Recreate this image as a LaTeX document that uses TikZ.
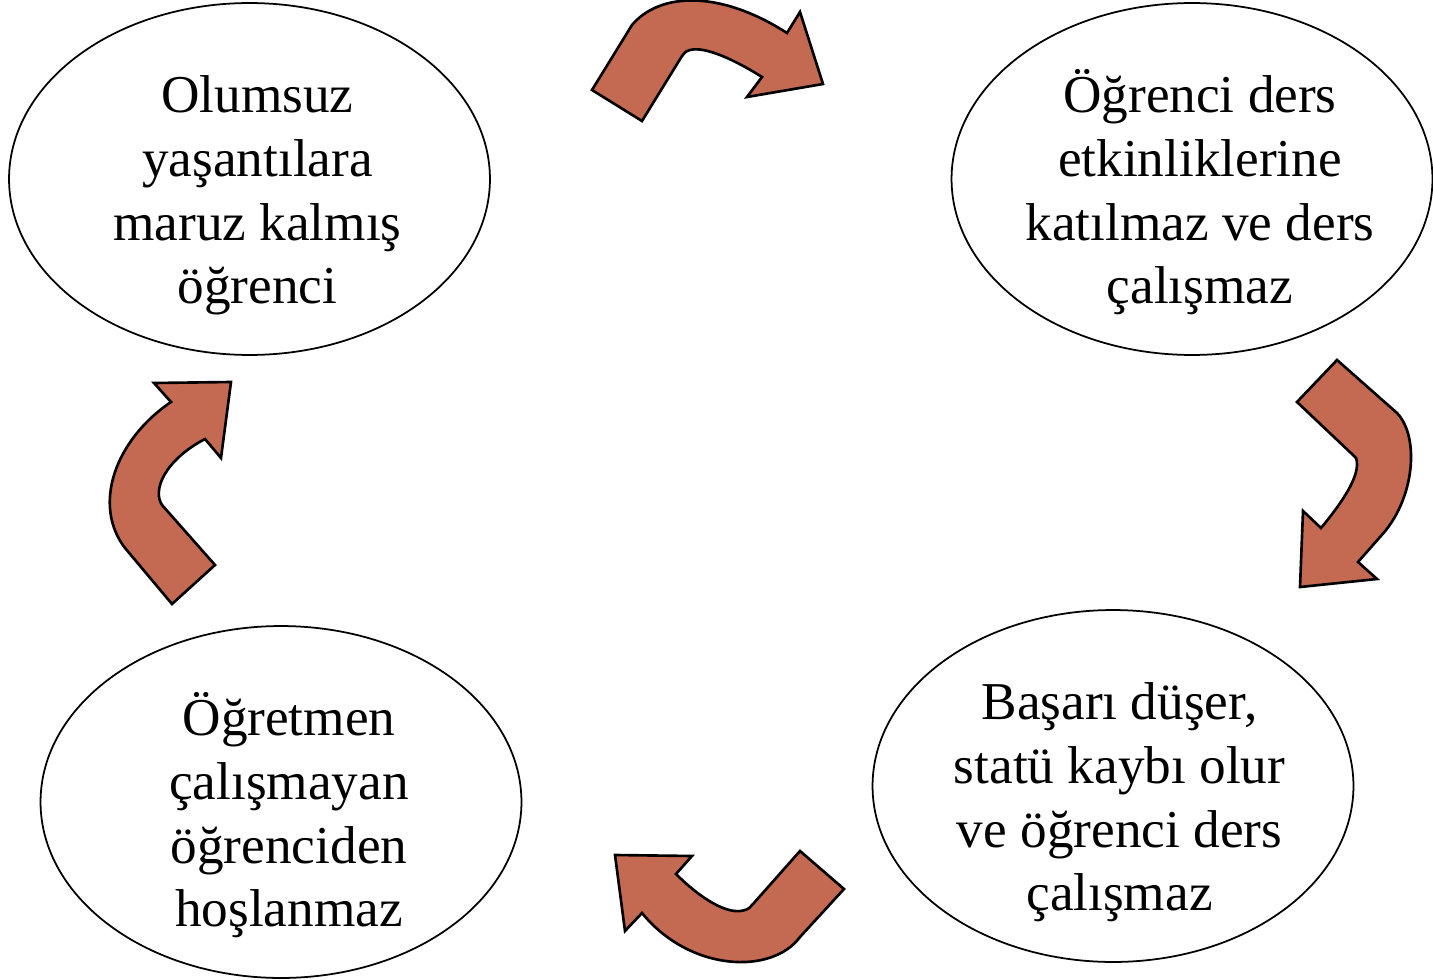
\documentclass[tikz,border=0pt]{standalone}
\usepackage{fontspec}
\setmainfont{Liberation Serif}
\usetikzlibrary{shapes.geometric}
\definecolor{arrowred}{RGB}{196,106,82}

\begin{document}
\begin{tikzpicture}[x=0.02cm, y=-0.02cm,
	stage/.style={ellipse, draw, line width=1pt, inner sep=0pt,
		minimum width=9.62cm, minimum height=7.04cm},
	stagetext/.style={align=center, inner sep=0pt, text height=5cm, text depth=0cm,
		xshift=0.16cm, font=\fontsize{30.3}{36.3}\selectfont},
	bentarrow/.style={fill=arrowred, draw=black, line width=1.5pt, line join=miter}]
	\useasboundingbox (0,0) rectangle (1433,980);
	\node (olumsuz) at (249.5,179) [stage] {};
	\node (katilmaz) at (1192,179) [stage] {};
	\node (basari) at (1113,786) [stage] {};
	\node (hoslanmaz) at (281,802) [stage] {};
	\node (olumsuztext) at (olumsuz.center) [stagetext] {Olumsuz\\yaşantılara\\maruz kalmış\\öğrenci};
	\node (katilmaztext) at (katilmaz.center) [stagetext] {Öğrenci ders\\etkinliklerine\\katılmaz ve ders\\çalışmaz};
	\node (basaritext) at (basari.center) [stagetext, xshift=-0.03cm] {Başarı düşer,\\statü kaybı olur\\ve öğrenci ders\\çalışmaz};
	\node (hoslanmaztext) at (hoslanmaz.center) [stagetext] {Öğretmen\\çalışmayan\\öğrenciden\\hoşlanmaz};
	% top
	\draw[bentarrow] (592,90) -- (632,25) .. controls (660,-8) and (720,-10) .. (787,33)
		-- (800,12) -- (823,84) -- (747,97) -- (762,77)
		.. controls (735,60) and (705,46) .. (690,50)
		.. controls (686,51) and (684,53) .. (682,56) -- (642,121) -- cycle;
	% right
	\draw[bentarrow] (1297,402) -- (1337,360) -- (1397,413)
		.. controls (1420,437) and (1415,500) .. (1380,537) -- (1358,562)
		-- (1377,579) -- (1300,587) -- (1303,511) -- (1321,528)
		.. controls (1340,505) and (1362,475) .. (1356,458) -- (1353,455) -- cycle;
	% bottom
	\draw[bentarrow] (800,851) -- (844,889) -- (800,937)
		.. controls (772,975) and (690,972) .. (642,913)
		-- (625,931) -- (615,855) -- (692,856) -- (676,874)
		.. controls (700,898) and (728,916) .. (745,910)
		.. controls (749,909) and (750,907) .. (753,904) -- cycle;
	% left
	\draw[bentarrow] (172,604) -- (215,565) -- (162,505)
		.. controls (152,490) and (165,460) .. (205,439)
		-- (221,458) -- (231,382) -- (154,383) -- (171,402)
		.. controls (115,440) and (92,505) .. (125,548) -- cycle;
\end{tikzpicture}
\end{document}
